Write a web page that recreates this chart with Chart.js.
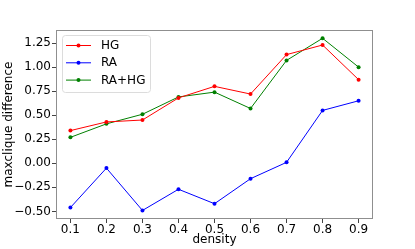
<!DOCTYPE html>
<html>
<head>
<meta charset="utf-8">
<script src="https://cdn.jsdelivr.net/npm/chart.js@4.4.1/dist/chart.umd.min.js"></script>
<style>
html, body { margin: 0; padding: 0; background: #fff; }
#wrap { width: 415px; height: 249px; }
</style>
</head>
<body>
<div id="wrap"><canvas id="chart" width="415" height="249"></canvas></div>
<script>
// data
const density = [0.1, 0.2, 0.3, 0.4, 0.5, 0.6, 0.7, 0.8, 0.9];
const hg = [0.34, 0.43, 0.45, 0.68, 0.80, 0.72, 1.13, 1.23, 0.87];
const ra = [-0.46, -0.05, -0.49, -0.27, -0.42, -0.16, 0.01, 0.55, 0.65];
const raHg = [0.27, 0.41, 0.51, 0.69, 0.74, 0.57, 1.07, 1.30, 1.00];

const xTicks = [0.1, 0.2, 0.3, 0.4, 0.5, 0.6, 0.7, 0.8, 0.9];
const xTickLabels = ['0.1', '0.2', '0.3', '0.4', '0.5', '0.6', '0.7', '0.8', '0.9'];
const yTicks = [-0.5, -0.25, 0, 0.25, 0.5, 0.75, 1.0, 1.25];
const yTickLabels = ['\u22120.50', '\u22120.25', '0.00', '0.25', '0.50', '0.75', '1.00', '1.25'];

const FONT = 'DejaVu Sans';
const pts = arr => density.map((d, i) => ({ x: d, y: arr[i] }));

function series(label, arr, color) {
  return {
    label: label,
    data: pts(arr),
    borderColor: color,
    backgroundColor: color,
    borderWidth: 1,
    pointRadius: 2,
    pointBorderWidth: 0,
    pointHoverRadius: 2,
    tension: 0
  };
}

// frame round the plot area
const framePlugin = {
  id: 'frame',
  afterDraw(chart) {
    const a = chart.chartArea;
    const ctx = chart.ctx;
    ctx.save();
    ctx.strokeStyle = '#8f8f8f';
    ctx.lineWidth = 1;
    ctx.strokeRect(Math.round(a.left) + 0.5, Math.round(a.top) + 0.5,
      Math.round(a.right - a.left) - 1, Math.round(a.bottom - a.top) - 1);
    ctx.restore();
  }
};

// matplotlib style legend in the upper left
const legendPlugin = {
  id: 'mplLegend',
  afterDraw(chart) {
    const ctx = chart.ctx;
    const a = chart.chartArea;
    const x0 = a.left + 6, y0 = a.top + 5;
    const w = 88, h = 57, r = 3;
    ctx.save();
    ctx.beginPath();
    ctx.roundRect(x0 + 0.5, y0 + 0.5, w, h, r);
    ctx.fillStyle = 'rgba(255,255,255,0.8)';
    ctx.fill();
    ctx.strokeStyle = '#dcdcdc';
    ctx.lineWidth = 1;
    ctx.stroke();
    ctx.font = '12px "' + FONT + '"';
    ctx.textBaseline = 'middle';
    chart.data.datasets.forEach((ds, i) => {
      const cy = y0 + 10.5 + i * 17.3;
      ctx.strokeStyle = ds.borderColor;
      ctx.lineWidth = 1;
      ctx.beginPath();
      ctx.moveTo(x0 + 4, cy);
      ctx.lineTo(x0 + 29, cy);
      ctx.stroke();
      ctx.fillStyle = ds.borderColor;
      ctx.beginPath();
      ctx.arc(x0 + 16.5, cy, 2, 0, Math.PI * 2);
      ctx.fill();
      ctx.fillStyle = '#000';
      ctx.fillText(ds.label, x0 + 39, cy + 0.5);
    });
    ctx.restore();
  }
};

new Chart(document.getElementById('chart'), {
  type: 'line',
  data: {
    datasets: [
      series('HG', hg, '#ff0000'),
      series('RA', ra, '#0000ff'),
      series('RA+HG', raHg, '#008000')
    ]
  },
  options: {
    responsive: false,
    devicePixelRatio: 1,
    animation: false,
    layout: { padding: { top: 30, right: 42, left: 0, bottom: 0 } },
    plugins: {
      legend: { display: false },
      tooltip: { enabled: false }
    },
    scales: {
      x: {
        type: 'linear',
        min: 0.06,
        max: 0.94,
        afterBuildTicks(scale) { scale.ticks = xTicks.map(v => ({ value: v })); },
        afterFit(scale) { scale.height = 30; },
        border: { display: false },
        grid: { drawOnChartArea: false, drawTicks: true, tickLength: 4, tickColor: '#444' },
        ticks: {
          color: '#000',
          padding: 0,
          maxRotation: 0,
          autoSkip: false,
          font: { family: FONT, size: 12 },
          callback: (v, i) => xTickLabels[i]
        },
        title: {
          display: true,
          text: 'density',
          color: '#000',
          padding: { top: 0, bottom: 2 },
          font: { family: FONT, size: 12 }
        }
      },
      y: {
        min: -0.579,
        max: 1.386,
        afterBuildTicks(scale) { scale.ticks = yTicks.map(v => ({ value: v })); },
        afterFit(scale) { scale.width = 56; },
        border: { display: false },
        grid: { drawOnChartArea: false, drawTicks: true, tickLength: 4, tickColor: '#444' },
        ticks: {
          color: '#000',
          padding: 1,
          autoSkip: false,
          font: { family: FONT, size: 12 },
          callback: (v, i) => yTickLabels[i]
        },
        title: {
          display: true,
          text: 'maxclique difference',
          color: '#000',
          padding: { top: 2, bottom: 0 },
          font: { family: FONT, size: 12 }
        }
      }
    }
  },
  plugins: [framePlugin, legendPlugin]
});
</script>
</body>
</html>
